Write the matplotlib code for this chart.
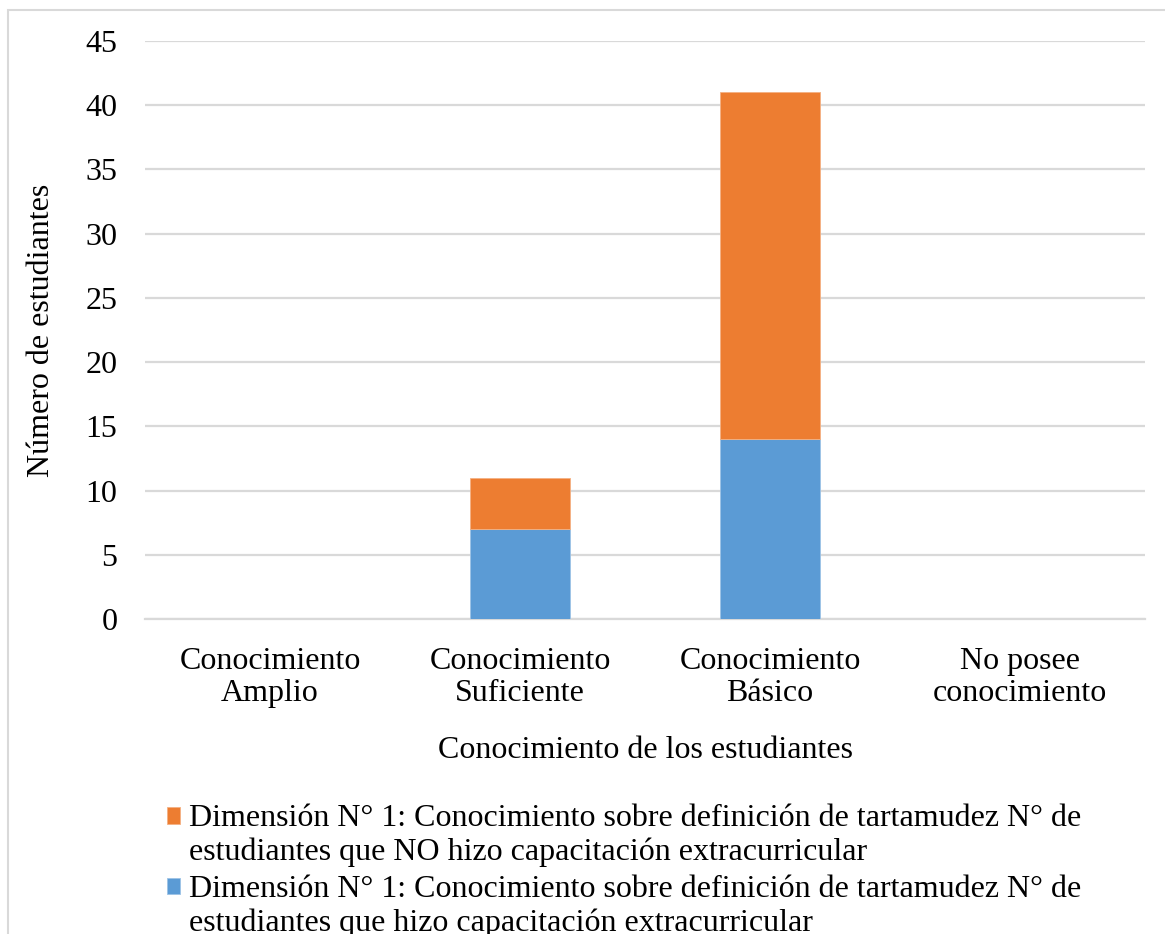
import matplotlib
matplotlib.use("Agg")
import matplotlib.pyplot as plt
from matplotlib.patches import Rectangle
from matplotlib.legend_handler import HandlerPatch

plt.rcParams['font.family'] = ['Liberation Serif', 'DejaVu Serif']

categorias = ['Conocimiento\nAmplio', 'Conocimiento\nSuficiente', 'Conocimiento\nBásico', 'No posee\nconocimiento']
con_capacitacion = [0, 7, 14, 0]
sin_capacitacion = [0, 4, 27, 0]
etiqueta_con = 'Dimensión N° 1: Conocimiento sobre definición de tartamudez N° de\nestudiantes que hizo capacitación extracurricular'
etiqueta_sin = 'Dimensión N° 1: Conocimiento sobre definición de tartamudez N° de\nestudiantes que NO hizo capacitación extracurricular'

azul = '#5B9BD5'
naranja = '#ED7D31'
gris = '#d9d9d9'


def cuadro_arriba(legend, orig_handle, xdescent, ydescent, width, height, fontsize):
    # cuadro de la leyenda a la altura de la primera línea del texto
    return Rectangle((-xdescent, -ydescent + 0.62 * fontsize), width, height)


fig = plt.figure(figsize=(11.65, 9.34), dpi=100)
ax = fig.add_axes([0.1245, 0.3373, 0.8583, 0.6188])

x = range(len(categorias))
b1 = ax.bar(x, con_capacitacion, width=0.4, color=azul, edgecolor='#9dc3e6', linewidth=0.6, zorder=3)
b2 = ax.bar(x, sin_capacitacion, width=0.4, bottom=con_capacitacion, color=naranja,
            edgecolor='#f4b183', linewidth=0.6, zorder=3)

ax.set_xlim(-0.5, 3.5)
ax.set_ylim(0, 45)
ax.set_yticks(range(0, 46, 5))
ax.set_xticks(list(x))
ax.set_xticklabels(categorias, fontsize=23, linespacing=1.15)
ax.tick_params(axis='y', labelsize=23, length=0, pad=20)
ax.tick_params(axis='x', length=0, pad=20)
ax.grid(axis='y', color=gris, linewidth=1.6, zorder=0)
for s in ['top', 'right', 'left']:
    ax.spines[s].set_visible(False)
ax.spines['bottom'].set_color(gris)
ax.spines['bottom'].set_linewidth(1.6)

ax.set_xlabel('Conocimiento de los estudiantes', fontsize=23, labelpad=20)
ax.set_ylabel('Número de estudiantes', fontsize=23, labelpad=21)

h_sin = b2.patches[0]
h_con = b1.patches[0]
manejador = HandlerPatch(patch_func=cuadro_arriba)
fig.legend([h_sin, h_con], [etiqueta_sin, etiqueta_con], loc='upper left',
           bbox_to_anchor=(0.132, 0.1525), frameon=False, fontsize=23,
           handlelength=0.41, handleheight=0.41, handletextpad=0.3,
           labelspacing=0.24, borderaxespad=0,
           handler_map={h_sin: manejador, h_con: manejador})

# marco exterior del gráfico
fig.add_artist(Rectangle((8 / 1165, -0.05), 1.2, 1.05 - 10 / 934, transform=fig.transFigure,
                         fill=False, edgecolor=gris, linewidth=1.5, clip_on=False))

fig.savefig('out.png', dpi=100)
